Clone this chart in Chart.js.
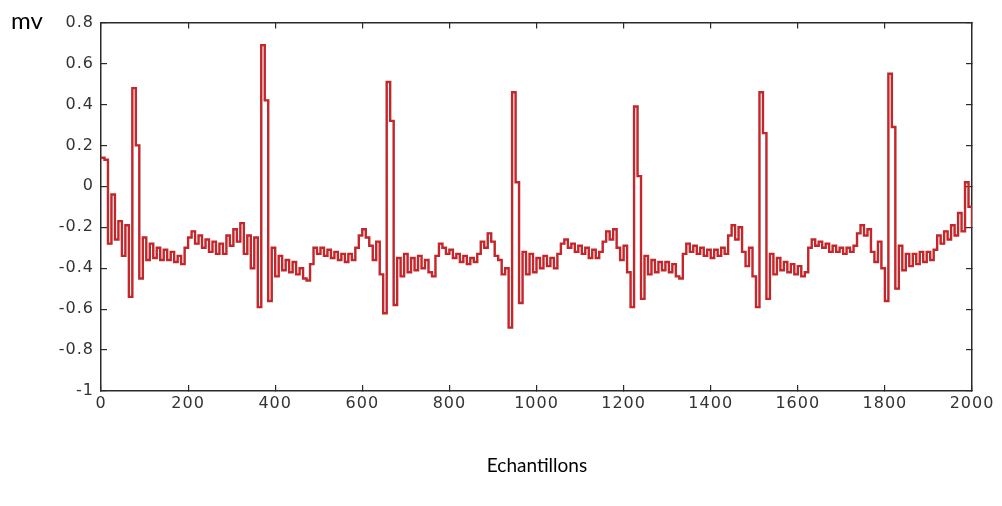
<!DOCTYPE html>
<html>
<head>
<meta charset="utf-8">
<script src="https://cdn.jsdelivr.net/npm/chart.js@4/dist/chart.umd.min.js"></script>
<style>
  html, body { margin: 0; padding: 0; background: #fff; }
  #wrap { position: relative; width: 1002px; height: 506px; }
</style>
</head>
<body>
<div id="wrap"><canvas id="ecgChart"></canvas></div>
<script>
// signal, one value every 8 samples (mV)
const sampleStep = 8;
const ecgMv = [
  0.14, 0.13, -0.28, -0.04, -0.26, -0.17, -0.34, -0.19, -0.54, 0.48,
  0.2, -0.45, -0.25, -0.36, -0.28, -0.35, -0.30, -0.36, -0.31, -0.36,
  -0.32, -0.37, -0.34, -0.38, -0.30, -0.25, -0.22, -0.28, -0.24, -0.30,
  -0.26, -0.32, -0.27, -0.33, -0.28, -0.33, -0.24, -0.29, -0.21, -0.27,
  -0.18, -0.33, -0.24, -0.40, -0.25, -0.59, 0.69, 0.42, -0.56, -0.30,
  -0.44, -0.34, -0.41, -0.36, -0.42, -0.37, -0.43, -0.40, -0.45, -0.46,
  -0.38, -0.30, -0.33, -0.30, -0.34, -0.31, -0.35, -0.32, -0.36, -0.33,
  -0.37, -0.33, -0.36, -0.30, -0.24, -0.21, -0.25, -0.29, -0.36, -0.27,
  -0.43, -0.62, 0.51, 0.32, -0.58, -0.35, -0.44, -0.33, -0.42, -0.35,
  -0.41, -0.34, -0.40, -0.36, -0.42, -0.44, -0.34, -0.28, -0.30, -0.33,
  -0.31, -0.35, -0.33, -0.37, -0.34, -0.38, -0.35, -0.37, -0.33, -0.27,
  -0.30, -0.23, -0.27, -0.34, -0.36, -0.43, -0.40, -0.69, 0.46, 0.02,
  -0.57, -0.32, -0.43, -0.33, -0.42, -0.35, -0.40, -0.34, -0.39, -0.35,
  -0.40, -0.33, -0.28, -0.26, -0.30, -0.28, -0.32, -0.29, -0.33, -0.30,
  -0.35, -0.31, -0.35, -0.32, -0.27, -0.22, -0.26, -0.21, -0.30, -0.36,
  -0.29, -0.42, -0.59, 0.39, 0.05, -0.55, -0.34, -0.43, -0.36, -0.42,
  -0.37, -0.41, -0.37, -0.42, -0.38, -0.44, -0.45, -0.33, -0.28, -0.32,
  -0.29, -0.33, -0.30, -0.34, -0.31, -0.35, -0.31, -0.34, -0.30, -0.33,
  -0.24, -0.19, -0.26, -0.20, -0.32, -0.39, -0.30, -0.44, -0.59, 0.46,
  0.26, -0.55, -0.33, -0.43, -0.35, -0.41, -0.37, -0.42, -0.38, -0.43,
  -0.39, -0.44, -0.42, -0.30, -0.26, -0.29, -0.27, -0.30, -0.28, -0.32,
  -0.29, -0.32, -0.30, -0.33, -0.30, -0.32, -0.29, -0.23, -0.19, -0.24,
  -0.21, -0.32, -0.37, -0.27, -0.40, -0.56, 0.55, 0.29, -0.50, -0.29,
  -0.41, -0.33, -0.39, -0.33, -0.38, -0.32, -0.37, -0.32, -0.36, -0.31,
  -0.24, -0.28, -0.22, -0.26, -0.19, -0.24, -0.13, -0.22, 0.02, -0.10,
  -0.20
];

const xTicks = [0, 200, 400, 600, 800, 1000, 1200, 1400, 1600, 1800, 2000];
const yTicks = [-1, -0.8, -0.6, -0.4, -0.2, 0, 0.2, 0.4, 0.6, 0.8];
const xTitle = 'Echantillons';
const yTitle = 'mv';

const points = ecgMv.map((v, i) => ({ x: i * sampleStep, y: v }));

const boxColor = '#2a2a2a';
const tickFont = { family: 'DejaVu Sans', size: 16 };

function setTicks(list) {
    return function(scale) {
        scale.ticks = list.map(v => ({ value: v }));
    };
}

// plain numbers, no thousands separator, "-1" not "-1.0"
function plainLabel(value) {
    return String(Math.round(value * 10) / 10);
}

// matlab-like box: every side has a border and inward tick marks
function axisBase(pos, list, showLabels, pad) {
    return {
        type: 'linear',
        position: pos,
        afterBuildTicks: setTicks(list),
        border: { display: true, color: boxColor, width: 1.5 },
        grid: { drawOnChartArea: false, drawTicks: true, tickLength: -6, color: boxColor, lineWidth: 1.2 },
        ticks: { display: showLabels, color: '#333', font: tickFont, padding: pad, autoSkip: false, maxRotation: 0, callback: plainLabel }
    };
}

const xAxis = Object.assign(axisBase('bottom', xTicks, true, 9), {
    min: 0, max: 2000,
    afterFit: s => { s.height = 115; }
});
const xTop = Object.assign(axisBase('top', xTicks, false, 0), {
    min: 0, max: 2000,
    afterFit: s => { s.height = 19; }
});
const yAxis = Object.assign(axisBase('left', yTicks, true, 13), {
    min: -1, max: 0.8,
    afterFit: s => { s.width = 101; }
});
const yRight = Object.assign(axisBase('right', yTicks, false, 0), {
    min: -1, max: 0.8,
    afterFit: s => { s.width = 30; }
});

// slightly wide tick digits like the original, and the two axis names
const labelsPlugin = {
    id: 'labelsPlugin',
    beforeDraw(chart) {
        chart.ctx.letterSpacing = '1px';
    },
    afterDraw(chart) {
        const ctx = chart.ctx;
        ctx.save();
        ctx.letterSpacing = '0px';
        ctx.fillStyle = '#000';
        ctx.font = '19px Lato';
        ctx.textAlign = 'center';
        ctx.textBaseline = 'middle';
        ctx.fillText(xTitle, 537, 466);
        ctx.font = '24px Lato';
        ctx.textAlign = 'left';
        ctx.textBaseline = 'alphabetic';
        ctx.fillText(yTitle, 11, 29);
        ctx.restore();
    }
};

new Chart(document.getElementById('ecgChart'), {
    type: 'line',
    data: {
        datasets: [{
            // bright core of the trace
            data: points,
            borderColor: '#e8181c',
            borderWidth: 1.1,
            stepped: true,
            pointRadius: 0,
            fill: false,
            order: 0
        }, {
            // darker outline under it
            data: points,
            borderColor: '#a0363a',
            borderWidth: 2.4,
            stepped: true,
            pointRadius: 0,
            fill: false,
            order: 1
        }]
    },
    options: {
        responsive: true,
        maintainAspectRatio: false,
        animation: false,
        parsing: false,
        layout: { padding: 0 },
        plugins: { legend: { display: false }, tooltip: { enabled: false } },
        scales: { x: xAxis, x2: xTop, y: yAxis, y2: yRight }
    },
    plugins: [labelsPlugin]
});
</script>
</body>
</html>
